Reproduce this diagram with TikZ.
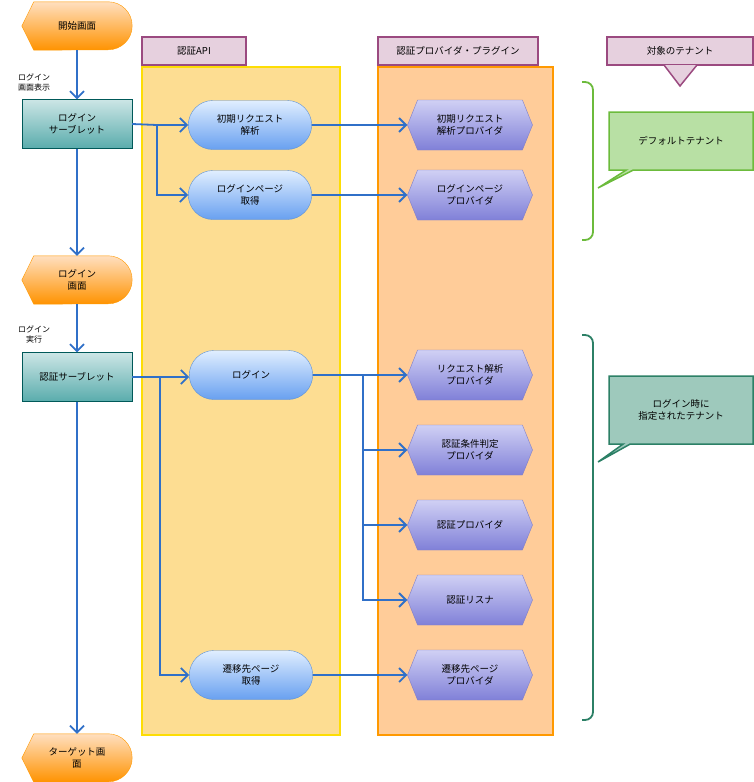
\documentclass[tikz,border=0pt]{standalone}
\usepackage{fontspec}
\newfontfamily\jpfont{Noto Sans CJK JP}
\usetikzlibrary{arrows.meta,shapes.misc,shapes.symbols,shapes.callouts,backgrounds}
\definecolor{flowblue}{HTML}{3070C8}
\definecolor{headfill}{HTML}{E6D0DE}
\definecolor{headline}{HTML}{9B4A80}
\definecolor{provtop}{HTML}{D0D0F4}
\definecolor{provbot}{HTML}{8080D8}
\definecolor{provline}{HTML}{8080C8}
\definecolor{apitop}{HTML}{E0EEFF}
\definecolor{apibot}{HTML}{68A0F0}
\definecolor{apiline}{HTML}{5B90D8}
\definecolor{deffill}{HTML}{B8E0A4}
\definecolor{defline}{HTML}{6CBB3C}
\definecolor{logfill}{HTML}{9EC9BC}
\definecolor{logline}{HTML}{2C8066}
\tikzset{
  txt/.style={font=\jpfont\fontsize{9.5}{12}\selectfont,align=center},
  flow/.style={flowblue,line width=1.8pt,-{Straight Barb[length=7pt,width=14pt]}},
  seg/.style={flowblue,line width=1.8pt},
  head/.style={txt,draw=headline,line width=1.5pt,fill=headfill,minimum height=28pt},
  term/.style={txt,minimum width=110pt,minimum height=48pt},
  termline/.style={draw=orange!80!yellow,top color=orange!25,bottom color=orange!85!yellow},
  servlet/.style={txt,draw=teal!70!black,top color=teal!20,bottom color=teal!65,minimum width=110pt,minimum height=49pt},
  api/.style={txt,rounded rectangle,draw=apiline,top color=apitop,bottom color=apibot,minimum width=130pt,minimum height=49pt},
  prov/.style={txt,signal,signal to=east and west,signal pointer angle=136,draw=provline,top color=provtop,bottom color=provbot,minimum width=125pt,minimum height=50pt},
}
\newcommand{\termbg}[1]{%
  \draw[termline] ([xshift=12pt]#1.north west) -- ([xshift=-24pt]#1.north east)
    arc[start angle=90,end angle=-90,radius=24pt] -- ([xshift=12pt]#1.south west) -- (#1.west) -- cycle;}
\begin{document}
\begin{tikzpicture}[x=1pt,y=-1pt]
  \useasboundingbox (0,0) rectangle (754,782);
  % columns
  \draw[fill=yellow!40!orange!40!white,draw=yellow!80!orange,line width=1.5pt] (142,67) rectangle (340,735);
  \draw[fill=orange!40!white,draw=orange!80!yellow,line width=1.5pt] (378,67) rectangle (553,735);
  \node[head,minimum width=104pt] (hapi) at (194,51) {認証API};
  \node[head,minimum width=160pt] (hprov) at (458,51) {認証プロバイダ・プラグイン};
  \node[head,minimum width=146pt] (hten) at (680,51) {対象のテナント};
  \draw[draw=headline,line width=1.5pt,fill=headfill] (664,65) -- (680,86) -- (697,65);

  % left flow
  \node[term] (start) at (77,26) {開始画面};
  \node[servlet] (lsv) at (77,124) {ログイン\\サーブレット};
  \node[term] (lscr) at (77,280) {ログイン\\画面};
  \node[servlet] (asv) at (77,377) {認証サーブレット};
  \node[term] (tgt) at (77,758) {ターゲット画\\面};
  \begin{scope}[on background layer]
    \termbg{start} \termbg{lscr} \termbg{tgt}
  \end{scope}
  \node[txt,font=\jpfont\fontsize{8}{10}\selectfont] (lbl1) at (34,82) {ログイン\\画面表示};
  \node[txt,font=\jpfont\fontsize{8}{10}\selectfont] (lbl2) at (34,334) {ログイン\\実行};
  \draw[flow] (start) -- (lsv);
  \draw[flow] (lsv) -- (lscr);
  \draw[flow] (lscr) -- (asv);
  \draw[flow] (asv) -- (tgt);

  % API
  \node[api] (parse) at (250,125) {初期リクエスト\\解析};
  \node[api] (page) at (250,195) {ログインページ\\取得};
  \node[api] (login) at (251,375) {ログイン};
  \node[api] (next) at (251,675) {遷移先ページ\\取得};

  % providers
  \node[prov] (pparse) at (470,125) {初期リクエスト\\解析プロバイダ};
  \node[prov] (ppage) at (470,195) {ログインページ\\プロバイダ};
  \node[prov] (preq) at (470,375) {リクエスト解析\\プロバイダ};
  \node[prov] (pcond) at (470,450) {認証条件判定\\プロバイダ};
  \node[prov] (pauth) at (470,525) {認証プロバイダ};
  \node[prov] (plis) at (470,600) {認証リスナ};
  \node[prov] (pnext) at (470,675) {遷移先ページ\\プロバイダ};

  \coordinate (b1) at (157,125);
  \coordinate (b2) at (160,377);
  \coordinate (b3) at (363,375);
  \draw[seg] (lsv.east) -- (b1);
  \draw[flow] (b1) -- (parse);
  \draw[flow] (b1) |- (page);
  \draw[seg] (asv.east) -- (b2);
  \draw[flow] (b2) -- (login.west|-b2);
  \draw[flow] (b2) |- (next);
  \draw[flow] (parse) -- (pparse);
  \draw[flow] (page) -- (ppage);
  \draw[seg] (login) -- (b3);
  \draw[flow] (b3) -- (preq);
  \draw[flow] (b3) |- (pcond);
  \draw[flow] (b3) |- (pauth);
  \draw[flow] (b3) |- (plis);
  \draw[flow] (next) -- (pnext);

  % tenants
  \draw[defline,line width=1.8pt,rounded corners=8pt] (582,82) -| (593,240) -- (582,240);
  \draw[logline,line width=1.8pt,rounded corners=8pt] (582,335) -| (593,720) -- (582,720);
  \node[txt,rectangle callout,callout absolute pointer={(598,188)},draw=defline,line width=1.5pt,fill=deffill,minimum width=144pt,minimum height=58pt] (tdef) at (681,141) {デフォルトテナント};
  \node[txt,rectangle callout,callout absolute pointer={(598,462)},draw=logline,line width=1.5pt,fill=logfill,minimum width=144pt,minimum height=68pt] (tlog) at (681,410) {ログイン時に\\指定されたテナント};
\end{tikzpicture}
\end{document}
